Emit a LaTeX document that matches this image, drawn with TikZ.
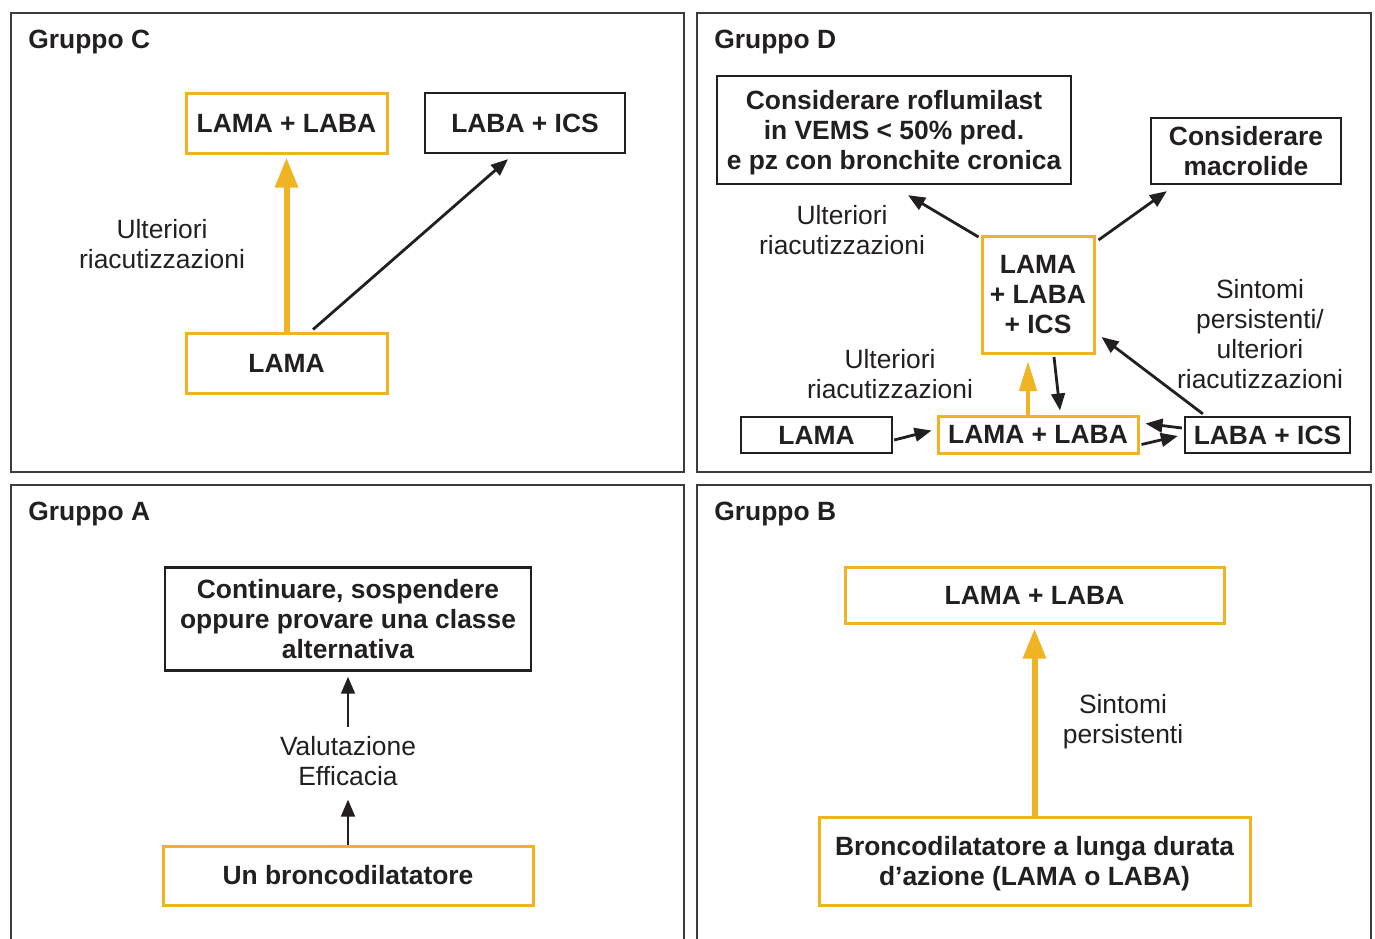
\documentclass[tikz,border=0pt]{standalone}
\usepackage{fontspec}
\setmainfont{Liberation Sans}
\usetikzlibrary{arrows.meta,calc}
\definecolor{yel}{HTML}{F0B323}
\definecolor{ink}{HTML}{231F20}
\definecolor{panelc}{HTML}{3C3C3C}
\newcommand\fsz{\fontsize{13.2}{15}\selectfont}
\tikzset{
  panel/.style={draw=panelc, line width=0.6pt},
  ttl/.style={anchor=base west, inner sep=0pt, font=\bfseries\fsz, text=ink},
  ybox/.style={draw=yel, line width=1.5pt, fill=white, inner sep=0pt, align=center, font=\bfseries\fsz, text=ink},
  kbox/.style={draw=ink, line width=1.15pt, fill=white, inner sep=0pt, align=center, font=\bfseries\fsz, text=ink},
  lbl/.style={align=center, inner sep=0pt, font=\fsz, text=ink},
  barrow/.style={draw=ink, line width=1.4pt, -{Triangle[length=8.5pt,width=6.8pt]}},
  yarrow/.style={draw=yel, line width=3pt, -{Triangle[length=15pt,width=11pt]}},
  ysmall/.style={draw=yel, line width=2.2pt, -{Triangle[length=15pt,width=8.5pt]}}
}
\begin{document}
\begin{tikzpicture}[x=0.5pt,y=-0.5pt]
\useasboundingbox (0,0) rectangle (1375,938);
\clip (0,0) rectangle (1375,938);
\fill[white] (0,0) rectangle (1375,938);

% panels
\draw[panel] (11,13) rectangle (684,472);
\draw[panel] (697,13) rectangle (1371,472);
\draw[panel] (11,485) rectangle (684,960);
\draw[panel] (697,485) rectangle (1371,960);

\node[ttl] (tC) at (28,48.5) {Gruppo C};
\node[ttl] (tD) at (714,48.5) {Gruppo D};
\node[ttl] (tA) at (28,520.5) {Gruppo A};
\node[ttl] (tB) at (714,520.5) {Gruppo B};

% ---------- Gruppo C ----------
\node[ybox, minimum width=100.5pt, minimum height=30pt] (cLL) at (286.5,123) {LAMA + LABA};
\node[kbox, minimum width=100pt, minimum height=30pt] (cLI) at (525,123) {LABA + ICS};
\node[ybox, minimum width=100.5pt, minimum height=30pt] (cLama) at (286.5,363) {LAMA};
\node[lbl] (cLbl) at (162,244) {Ulteriori\\riacutizzazioni};
\draw[yarrow] (cLama.north) -- ($(cLL.south)+(0,3)$);
\draw[barrow] ($(cLama.north)+(26.5,-2)$) -- ($(cLI.south)+(-17,5)$);

% ---------- Gruppo D ----------
\node[kbox, minimum width=177pt, minimum height=54pt, text depth=0pt] (dRof) at (894,130) {Considerare roflumilast\\in VEMS < 50\% pred.\\e pz con bronchite cronica};
\node[kbox, minimum width=95pt, minimum height=33pt] (dMac) at (1246,151) {Considerare\\macrolide};
\node[ybox, minimum width=56pt, minimum height=58.5pt] (dTri) at (1038,295) {LAMA\\+ LABA\\+ ICS};
\node[kbox, minimum width=75.5pt, minimum height=18pt] (dLama) at (816.5,435) {LAMA};
\node[ybox, minimum width=100pt, minimum height=18.5pt] (dLL) at (1038,434.5) {LAMA + LABA};
\node[kbox, minimum width=82.5pt, minimum height=18pt] (dLI) at (1267.5,435) {LABA + ICS};
\node[lbl] (dLbl1) at (842,230) {Ulteriori\\riacutizzazioni};
\node[lbl] (dLbl2) at (1260,334) {Sintomi\\persistenti/\\ulteriori\\riacutizzazioni};
\node[lbl] (dLbl3) at (890,374) {Ulteriori\\riacutizzazioni};

\draw[barrow] ($(dTri.north west)+(-2,2)$) -- ($(dRof.south)+(14,10)$);
\draw[barrow] ($(dTri.north east)+(3,5)$) -- ($(dMac.south west)+(17,6)$);
\draw[ysmall] ($(dLL.north)+(-10,0)$) -- ($(dTri.south)+(-10,6)$);
\draw[barrow] ($(dTri.south)+(16,2)$) -- ($(dLL.north)+(22,-4)$);
\draw[barrow] ($(dLama.east)+(1,5)$) -- ($(dLL.west)+(-5,-4)$);
\draw[barrow] ($(dLL.east)+(2,10)$) -- ($(dLI.west)+(-6,1)$);
\draw[barrow] ($(dLI.west)+(-2,-7)$) -- ($(dLL.east)+(6,-11)$);
\draw[barrow] ($(dLI.north west)+(19,-2)$) -- ($(dTri.east)+(6,42)$);

% ---------- Gruppo A ----------
\node[kbox, minimum width=183pt, minimum height=51.5pt] (aTop) at (348,619) {Continuare, sospendere\\oppure provare una classe\\alternativa};
\node[lbl] (aLbl) at (348,761) {Valutazione\\Efficacia};
\node[ybox, minimum width=185pt, minimum height=29.5pt] (aBot) at (348,875.5) {Un broncodilatatore};
\draw[barrow] (aBot.north) -- ($(aBot.north)+(0,-45)$);
\draw[barrow] ($(aTop.south)+(0,55)$) -- ($(aTop.south)+(0,5)$);

% ---------- Gruppo B ----------
\node[ybox, minimum width=189.5pt, minimum height=28pt] (bTop) at (1034.5,595) {LAMA + LABA};
\node[ybox, minimum width=215.5pt, minimum height=44pt, text depth=0pt] (bBot) at (1034.5,861) {Broncodilatatore a lunga durata\\d’azione (LAMA o LABA)};
\node[lbl] (bLbl) at (1123,722) {Sintomi\\persistenti};
\draw[yarrow] (bBot.north) -- ($(bTop.south)+(0,4)$);
\end{tikzpicture}
\end{document}
